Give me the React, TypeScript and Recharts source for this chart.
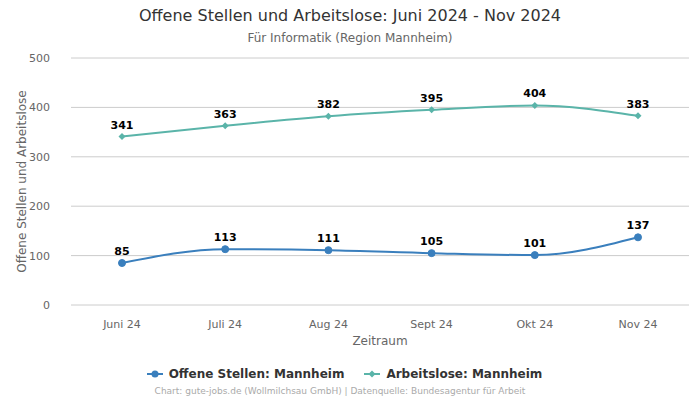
import React from 'react'
import { CartesianGrid, LabelList, Legend, Line, LineChart, Text, XAxis, YAxis } from 'recharts'

const months = ['Juni 24', 'Juli 24', 'Aug 24', 'Sept 24', 'Okt 24', 'Nov 24']
const offeneStellen = [85, 113, 111, 105, 101, 137]
const arbeitslose = [341, 363, 382, 395, 404, 383]
const yTicks = [0, 100, 200, 300, 400, 500]

const BLUE = '#3a7fbd'
const TEAL = '#5ab4a9'
const FONT = '"DejaVu Sans", sans-serif'

const data = months.map((m, i) => ({
    month: m,
    offen: offeneStellen[i],
    arbeitslos: arbeitslose[i],
}))

const Diamond = (props: any) => {
    const { cx, cy } = props
    if (cx == null || cy == null) return null
    const r = 3.5
    return <path d={`M${cx},${cy - r}L${cx + r},${cy}L${cx},${cy + r}L${cx - r},${cy}Z`} fill={TEAL} />
}

const YLabel = (props: any) => {
    const { viewBox } = props
    const cy = viewBox.y + viewBox.height / 2
    return (
        <Text x={22} y={cy} angle={-90} textAnchor="middle" verticalAnchor="middle" fill="#666" fontSize={12} fontFamily={FONT}>
            Offene Stellen und Arbeitslose
        </Text>
    )
}

const renderLegend = () => (
    <div style={{ display: 'flex', justifyContent: 'center', gap: 20, fontFamily: FONT, fontSize: 12, fontWeight: 'bold', color: '#333', paddingTop: 12 }}>
        <span style={{ display: 'flex', alignItems: 'center', gap: 6 }}>
            <svg width={16} height={10}>
                <line x1={0} y1={5} x2={16} y2={5} stroke={BLUE} strokeWidth={2} />
                <circle cx={8} cy={5} r={3.5} fill={BLUE} />
            </svg>
            Offene Stellen: Mannheim
        </span>
        <span style={{ display: 'flex', alignItems: 'center', gap: 6 }}>
            <svg width={16} height={10}>
                <line x1={0} y1={5} x2={16} y2={5} stroke={TEAL} strokeWidth={2} />
                <path d="M8,1.5L11.5,5L8,8.5L4.5,5Z" fill={TEAL} />
            </svg>
            Arbeitslose: Mannheim
        </span>
    </div>
)

export default function App() {
    return (
        <div style={{ position: 'absolute', left: 0, top: 0, width: 700, height: 400, background: '#fff' }}>
            <div style={{ position: 'absolute', top: 6, width: 700, textAlign: 'center', fontFamily: FONT, fontSize: 16, color: '#333' }}>
                Offene Stellen und Arbeitslose: Juni 2024 - Nov 2024
            </div>
            <div style={{ position: 'absolute', top: 31, width: 700, textAlign: 'center', fontFamily: FONT, fontSize: 12, color: '#666' }}>
                Für Informatik (Region Mannheim)
            </div>
            <LineChart width={700} height={400} data={data} margin={{ top: 58, right: 11, bottom: 5, left: 0 }}>
                <CartesianGrid vertical={false} stroke="#ccc" />
                <XAxis
                    dataKey="month"
                    padding={{ left: 51, right: 51 }}
                    axisLine={false}
                    tickLine={false}
                    tick={{ fill: '#666', fontSize: 11, fontFamily: FONT }}
                    tickMargin={9}
                    height={50}
                    label={{ value: 'Zeitraum', position: 'insideBottom', offset: 10, fill: '#666', fontSize: 12, fontFamily: FONT }}
                />
                <YAxis
                    domain={[0, 500]}
                    ticks={yTicks}
                    width={71}
                    axisLine={false}
                    tickLine={false}
                    tick={{ fill: '#666', fontSize: 11, fontFamily: FONT }}
                    tickMargin={15}
                    label={<YLabel />}
                />
                <Legend verticalAlign="bottom" height={40} content={renderLegend} />
                <Line
                    type="monotone"
                    dataKey="offen"
                    name="Offene Stellen: Mannheim"
                    stroke={BLUE}
                    strokeWidth={2}
                    dot={{ r: 3.5, fill: BLUE, stroke: BLUE, strokeWidth: 1 }}
                    isAnimationActive={false}
                >
                    <LabelList dataKey="offen" position="top" offset={8} fill="#000" fontSize={11} fontWeight="bold" fontFamily={FONT} />
                </Line>
                <Line
                    type="monotone"
                    dataKey="arbeitslos"
                    name="Arbeitslose: Mannheim"
                    stroke={TEAL}
                    strokeWidth={2}
                    dot={<Diamond />}
                    isAnimationActive={false}
                >
                    <LabelList dataKey="arbeitslos" position="top" offset={8} fill="#000" fontSize={11} fontWeight="bold" fontFamily={FONT} />
                </Line>
            </LineChart>
            <div style={{ position: 'absolute', top: 386, left: -10, width: 700, textAlign: 'center', fontFamily: FONT, fontSize: 9, color: '#aaa' }}>
                Chart: gute-jobs.de (Wollmilchsau GmbH) | Datenquelle: Bundesagentur für Arbeit
            </div>
        </div>
    )
}
